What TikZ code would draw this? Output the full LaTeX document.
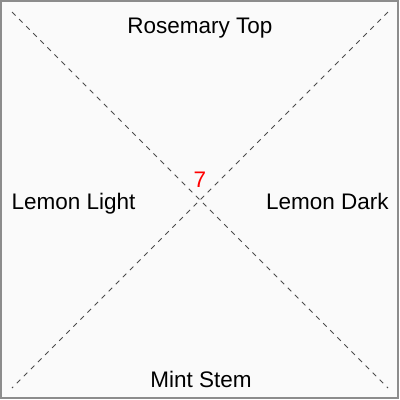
\documentclass[tikz,border=0pt]{standalone}
\usepackage{fontspec}
\setmainfont{Liberation Sans}
\usetikzlibrary{positioning}

\begin{document}
\begin{tikzpicture}[x=1pt,y=-1pt]

\tikzset{label/.style = {anchor=base,inner sep=0pt,font=\fontsize{22.5}{26}\selectfont}}
\tikzset{diag/.style = {draw=black!70,line width=0.8pt,dash pattern=on 5pt off 5pt}}
\useasboundingbox (0,0) rectangle (400,400);
% frame
\draw[fill=black!2,draw=black!45,line width=2pt] (1,1) rectangle (398,398);
% corners
\coordinate (tl) at (12,12);
\coordinate (tr) at (388,12);
\coordinate (bl) at (12,388);
\coordinate (br) at (388,388);
%diagonals
\path[diag] (tl) -- (br);
\path[diag] (tr) -- (bl);
% labels
\node[label] (top) at (200,33) {Rosemary Top};
\node[label] (left) at (73.5,209) {Lemon Light};
\node[label] (right) at (327.5,209) {Lemon Dark};
\node[label] (bottom) at (201,387) {Mint Stem};
\node[label,text=red] (num) at (200,187) {7};
\end{tikzpicture}
\end{document}
